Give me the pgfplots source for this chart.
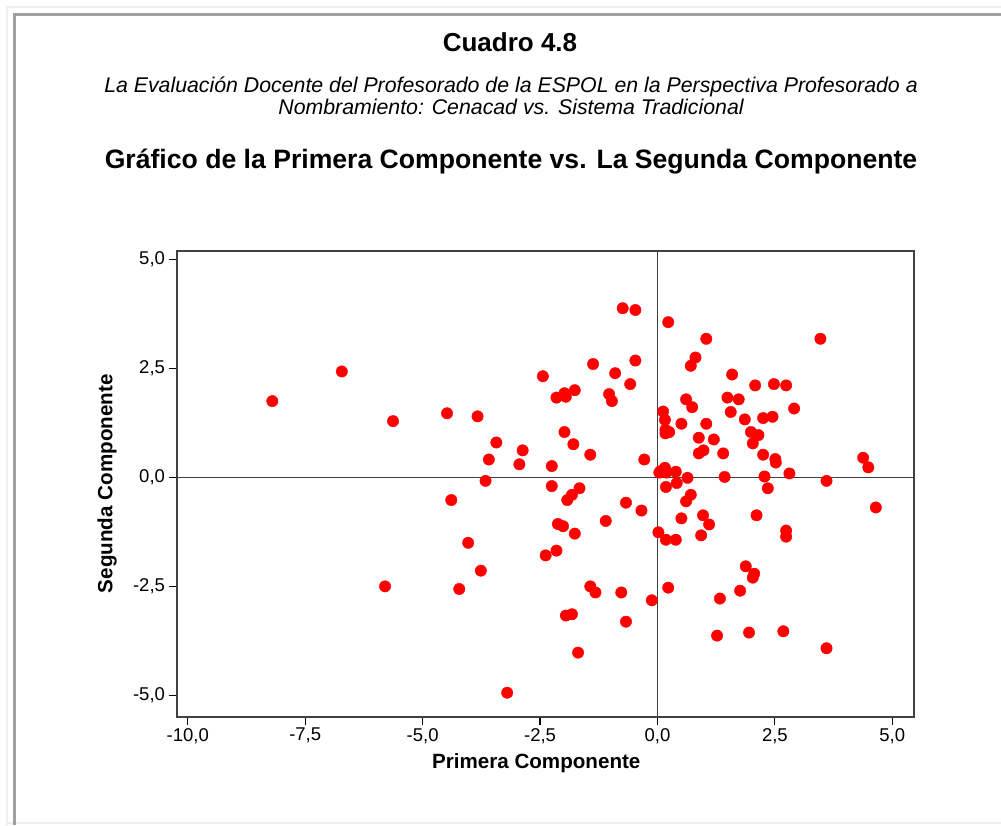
\documentclass[border=0pt]{standalone}
\usepackage{fontspec}
\setmainfont{Liberation Sans}
\usepackage{pgfplots}
\pgfplotsset{compat=1.18}
\definecolor{framegray}{HTML}{A0A0A0}
\definecolor{lightframe}{HTML}{EEEEEE}
\definecolor{axisgray}{HTML}{404040}
\begin{document}
\begin{tikzpicture}[x=1pt,y=1pt]
\useasboundingbox (0,0) rectangle (1001,825);
% page frame
\draw[lightframe, line width=2pt] (7,0) -- (7,818) -- (1001,818);
\draw[lightframe, line width=2pt] (7,2) -- (1001,2);
\draw[framegray, line width=3pt] (14,0) -- (14,810) -- (1001,810);
% headings
\node[anchor=base, font=\bfseries\fontsize{26}{30}\selectfont] at (510,773) {Cuadro 4.8};
\node[anchor=base, font=\itshape\fontsize{21.3}{24}\selectfont] at (511,732) {La Evaluación Docente del Profesorado de la ESPOL en la Perspectiva Profesorado a};
\node[anchor=base, font=\itshape\fontsize{21.3}{24}\selectfont] at (511,710) {Nombramiento: Cenacad vs. Sistema Tradicional};
\node[anchor=base, font=\bfseries\fontsize{26.6}{30}\selectfont] at (511,656) {Gráfico de la Primera Componente vs. La Segunda Componente};
\begin{axis}[
    at={(176.5pt,108.3pt)}, anchor=south west,
    scale only axis,
    width=737.2pt, height=466pt,
    xmin=-10.24, xmax=5.456,
    ymin=-5.49, ymax=5.20,
    xtick={-10,-7.5,-5,-2.5,0,2.5,5},
    ytick={-5,-2.5,0,2.5,5},
    xtick pos=bottom, ytick pos=left,
    tick align=outside,
    major tick length=8pt,
    tick style={black, line width=1.2pt},
    axis line style={axisgray, line width=2pt},
    ticklabel style={font=\fontsize{18.5}{20}\selectfont,
        /pgf/number format/.cd, fixed, fixed zerofill, precision=1,
        use comma, assume math mode=true},
    xlabel={Primera Componente},
    ylabel={Segunda Componente},
    label style={font=\bfseries\fontsize{20.6}{23}\selectfont},
    xlabel style={at={(axis description cs:0.488,0)}, anchor=center, yshift=-46pt},
    ylabel style={at={(axis description cs:0,0.5)}, anchor=center, rotate=0, yshift=69.5pt},
]
\addplot[axisgray, line width=1.5pt, no marks] coordinates {(0,-5.49) (0,5.20)};
\addplot[axisgray, line width=1.5pt, no marks] coordinates {(-10.24,0) (5.456,0)};
\addplot[only marks, mark=*, mark size=5.7pt, mark options={fill=red, draw=red}] coordinates {
(-8.20,1.75) (-6.72,2.43) (-5.63,1.29) (-5.80,-2.50)
(-0.74,3.88) (-0.47,3.84) (0.23,3.56) (-1.37,2.60)
(-2.44,2.32) (-0.90,2.39) (-0.47,2.68) (-0.58,2.14)
(-1.76,2.00) (-2.15,1.83) (-1.98,1.93) (-1.95,1.85)
(-1.03,1.91) (-0.97,1.75) (-4.48,1.47) (-3.83,1.40)
(-3.43,0.80) (-2.87,0.62) (-1.98,1.04) (-1.79,0.76)
(-3.59,0.41) (-2.94,0.30) (-2.25,0.26) (-1.43,0.52)
(-0.28,0.41) (-3.66,-0.08) (-2.25,-0.20) (-1.66,-0.25)
(0.12,1.51) (0.16,1.32) (0.17,1.09) (0.17,1.01)
(0.06,0.14) (0.16,0.22) (1.04,3.18) (3.47,3.18)
(0.81,2.75) (0.71,2.56) (1.59,2.36) (2.08,2.11)
(2.48,2.14) (2.74,2.11) (0.61,1.79) (0.74,1.61)
(1.49,1.83) (1.73,1.79) (1.56,1.50) (2.91,1.58)
(0.25,1.04) (0.51,1.23) (1.04,1.23) (1.86,1.33)
(2.25,1.36) (2.45,1.39) (0.88,0.91) (1.20,0.87)
(1.99,1.04) (2.15,0.97) (2.03,0.78) (0.88,0.55)
(0.98,0.62) (1.40,0.55) (2.25,0.52) (2.51,0.42)
(2.52,0.34) (4.38,0.45) (4.49,0.23) (0.04,0.11)
(0.19,0.11) (0.39,0.13) (0.64,-0.01) (1.43,0.01)
(2.28,0.02) (2.81,0.09) (3.60,-0.08) (0.18,-0.22)
(0.41,-0.13) (2.35,-0.25) (0.71,-0.40) (0.61,-0.55)
(-0.34,-0.76) (0.51,-0.94) (0.97,-0.87) (1.10,-1.08)
(0.93,-1.33) (2.11,-0.87) (4.65,-0.69) (2.74,-1.22)
(2.74,-1.36) (0.02,-1.26) (0.18,-1.43) (0.39,-1.43)
(1.88,-2.04) (2.06,-2.21) (2.03,-2.30) (1.76,-2.60)
(0.23,-2.53) (-0.12,-2.82) (1.33,-2.78) (1.27,-3.63)
(1.95,-3.56) (2.68,-3.53) (3.60,-3.92) (-4.39,-0.52)
(-1.82,-0.40) (-1.92,-0.52) (-0.67,-0.58) (-1.10,-1.00)
(-2.12,-1.07) (-2.01,-1.12) (-1.76,-1.29) (-4.03,-1.50)
(-2.15,-1.68) (-2.38,-1.79) (-3.76,-2.14) (-4.22,-2.56)
(-1.43,-2.50) (-1.32,-2.64) (-0.77,-2.64) (-1.95,-3.17)
(-1.82,-3.14) (-0.67,-3.31) (-1.69,-4.02) (-3.20,-4.94)
};
\end{axis}
\end{tikzpicture}
\end{document}
